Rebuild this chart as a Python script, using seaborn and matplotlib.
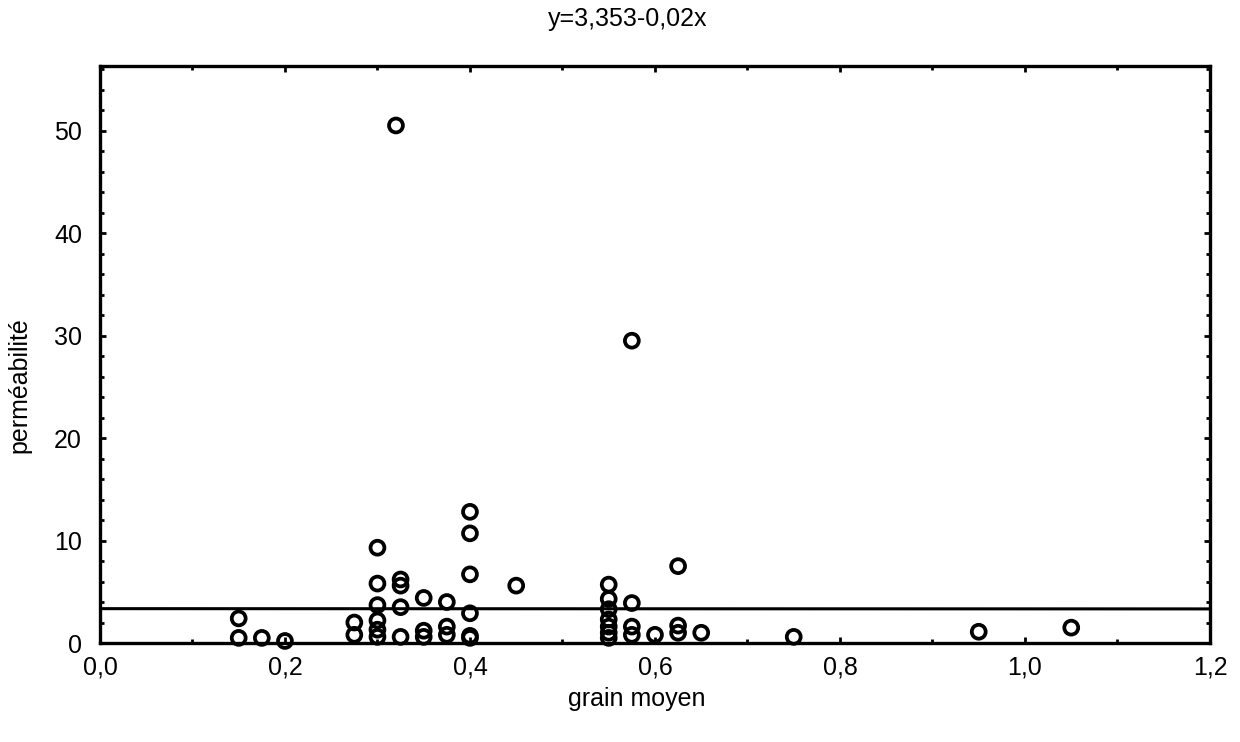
import matplotlib
matplotlib.use("Agg")
import matplotlib.pyplot as plt
import seaborn as sns
import numpy as np
import pandas as pd
from matplotlib.ticker import MultipleLocator, FuncFormatter

# data
grain = [0.15, 0.15, 0.175, 0.2, 0.275, 0.275,
         0.3, 0.3, 0.3, 0.3, 0.3, 0.3,
         0.32,
         0.325, 0.325, 0.325, 0.325,
         0.35, 0.35, 0.35,
         0.375, 0.375, 0.375,
         0.4, 0.4, 0.4, 0.4, 0.4, 0.4,
         0.45,
         0.55, 0.55, 0.55, 0.55, 0.55, 0.55, 0.55,
         0.575, 0.575, 0.575, 0.575,
         0.6,
         0.625, 0.625, 0.625,
         0.65, 0.75, 0.95, 1.05]
perm = [2.4, 0.5, 0.5, 0.2, 2.0, 0.8,
        9.3, 5.8, 3.7, 2.2, 1.3, 0.6,
        50.5,
        6.2, 5.6, 3.5, 0.6,
        4.4, 1.2, 0.6,
        4.0, 1.6, 0.8,
        12.8, 10.7, 6.7, 2.9, 0.7, 0.5,
        5.6,
        5.7, 4.3, 3.3, 2.3, 1.6, 1.0, 0.5,
        29.5, 3.9, 1.6, 0.8,
        0.8,
        7.5, 1.7, 1.0,
        1.0, 0.6, 1.1, 1.5]
intercept = 3.353
slope = -0.02
title_text = "y=3,353-0,02x"
x_label = "grain moyen"
y_label = "perméabilité"

df = pd.DataFrame({"grain moyen": grain, "perméabilité": perm})

sns.set_theme(style="white")
plt.rcParams['font.family'] = ['Liberation Sans', 'DejaVu Sans']
plt.rcParams['text.color'] = 'black'
plt.rcParams['axes.labelcolor'] = 'black'
plt.rcParams['xtick.color'] = 'black'
plt.rcParams['ytick.color'] = 'black'

fig = plt.figure(figsize=(12.4, 7.42), dpi=100)
ax = fig.add_axes([0.0806, 0.1334, 0.8952, 0.7776])

sns.scatterplot(data=df, x="grain moyen", y="perméabilité", ax=ax,
                marker="o", s=100, facecolor="none", edgecolor="black",
                linewidth=2.7, zorder=3, clip_on=False)

xs = np.array([0.0, 1.2])
ax.plot(xs, intercept + slope * xs, color="black", lw=2.2, zorder=2)

ax.set_xlim(0, 1.2)
ax.set_ylim(0, 56.3)
ax.xaxis.set_major_locator(MultipleLocator(0.2))
ax.xaxis.set_minor_locator(MultipleLocator(0.1))
ax.yaxis.set_major_locator(MultipleLocator(10))
ax.yaxis.set_minor_locator(MultipleLocator(2))
ax.xaxis.set_major_formatter(FuncFormatter(lambda v, p: f"{v:.1f}".replace(".", ",")))
ax.yaxis.set_major_formatter(FuncFormatter(lambda v, p: f"{v:.0f}"))
ax.tick_params(which="both", direction="in", top=True, right=True,
               bottom=True, left=True, color="black", labelcolor="black", width=2)
ax.tick_params(which="major", length=4, labelsize=18)
ax.tick_params(axis="x", which="major", pad=9)
ax.tick_params(axis="y", which="major", pad=13)
ax.tick_params(which="minor", length=3)

for sp in ax.spines.values():
    sp.set_visible(True)
    sp.set_color("black")
    sp.set_linewidth(2.4)

ax.set_xlabel(x_label, fontsize=18, color="black")
ax.set_ylabel(y_label, fontsize=18, color="black")
ax.xaxis.set_label_coords(0.484, -0.076)
ax.yaxis.set_label_coords(-0.062, 0.447)
ax.set_title(title_text, fontsize=18, x=0.475, y=1.055, color="black")
ax.grid(False)

fig.savefig("out.png", dpi=100, facecolor="white")
